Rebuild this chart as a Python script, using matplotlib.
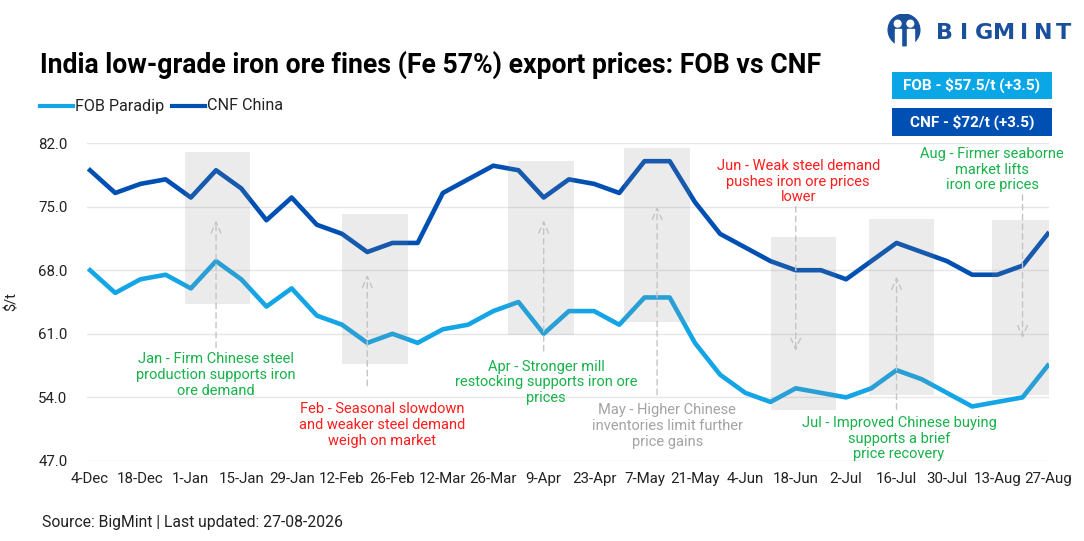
import numpy as np
import matplotlib
matplotlib.use("Agg")
import matplotlib.pyplot as plt
from matplotlib.patches import Rectangle, Circle

plt.rcParams['font.family'] = ['Roboto', 'DejaVu Sans']

# weekly prices, 4-Dec to 27-Aug
fob = [68, 65.5, 67, 67.5, 66, 69, 67, 64, 66, 63, 62, 60, 61, 60, 61.5, 62, 63.5, 64.5, 61,
       63.5, 63.5, 62, 65, 65, 60, 56.5, 54.5, 53.5, 55, 54.5, 54, 55, 57, 56, 54.5, 53, 53.5, 54, 57.5]
cnf = [79, 76.5, 77.5, 78, 76, 79, 77, 73.5, 76, 73, 72, 70, 71, 71, 76.5, 78, 79.5, 79, 76,
       78, 77.5, 76.5, 80, 80, 75.5, 72, 70.5, 69, 68, 68, 67, 69, 71, 70, 69, 67.5, 67.5, 68.5, 72]
xlabels = ['4-Dec', '18-Dec', '1-Jan', '15-Jan', '29-Jan', '12-Feb', '26-Feb', '12-Mar', '26-Mar', '9-Apr',
           '23-Apr', '7-May', '21-May', '4-Jun', '18-Jun', '2-Jul', '16-Jul', '30-Jul', '13-Aug', '27-Aug']
yticks = [47.0, 54.0, 61.0, 68.0, 75.0, 82.0]

GREEN = '#17b24a'
RED = '#ff1d1d'
GREY = '#a3a3a3'

# box centre, box bottom/top, arrow x, arrow from, arrow to, text, colour, text x, text y
notes = [
    (5.05, 64.3, 81.0, 5.0, 59.5, 73.5, "Jan - Firm Chinese steel\nproduction supports iron\nore demand", GREEN, 5.0, 58.95),
    (11.3, 57.7, 74.2, 11.0, 55.3, 67.5, "Feb - Seasonal slowdown\nand weaker steel demand\nweigh on market", RED, 11.6, 53.45),
    (17.9, 60.9, 80.0, 18.0, 59.1, 73.5, "Apr - Stronger mill\nrestocking supports iron ore\nprices", GREEN, 18.1, 58.15),
    (22.5, 62.3, 81.4, 22.5, 54.3, 75.0, "May - Higher Chinese\ninventories limit further\nprice gains", GREY, 22.9, 53.35),
    (28.3, 52.6, 71.7, 28.0, 75.0, 59.1, "Jun - Weak steel demand\npushes iron ore prices\nlower", RED, 28.1, 80.25),
    (32.2, 54.3, 73.6, 32.0, 52.7, 67.3, "Jul - Improved Chinese buying\nsupports a brief\nprice recovery", GREEN, 32.1, 51.95),
    (37.1, 54.3, 73.5, 37.0, 76.3, 60.5, "Aug - Firmer seaborne\nmarket lifts\niron ore prices", GREEN, 35.8, 81.55),
]

fig = plt.figure(figsize=(10.84, 5.41), dpi=100)
ax = fig.add_axes([87 / 1084, 1 - 461 / 541, (1049 - 87) / 1084, (461 - 143) / 541])

x = np.arange(len(fob))
ax.plot(x, cnf, color='#0050b4', lw=3.3, solid_joinstyle='round', zorder=3, label='CNF China')
ax.plot(x, fob, color='#14a5e6', lw=3.3, solid_joinstyle='round', zorder=3, label='FOB Paradip')

for cx, b0, b1, axx, a0, a1, txt, col, tx, ty in notes:
    ax.add_patch(Rectangle((cx - 1.3, b0), 2.6, b1 - b0, facecolor='#8c8c8c', alpha=0.17,
                           edgecolor='none', zorder=4))
    ax.annotate('', xy=(axx, a1), xytext=(axx, a0),
                arrowprops=dict(arrowstyle='->,head_length=0.8,head_width=0.35', color='#c4c4c4',
                                lw=1, ls=(0, (4, 3)), shrinkA=0, shrinkB=0), zorder=5)
    ax.text(tx, ty, txt, color=col, fontsize=10.5, ha='center', va='top', linespacing=1.15, zorder=6)

ax.set_xlim(-0.12, 38.05)
ax.set_ylim(47, 82)
ax.set_yticks(yticks)
ax.set_yticklabels([f'{v:.1f}' for v in yticks])
ax.set_xticks(np.arange(0, 39, 2))
ax.set_xticklabels(xlabels)
ax.tick_params(axis='both', length=0, labelsize=10.8, colors='#222222')
ax.tick_params(axis='y', pad=14)
ax.tick_params(axis='x', pad=8)
ax.grid(axis='y', color='#e6e6e6', lw=1)
for s in ax.spines.values():
    s.set_visible(False)
ax.set_ylabel('$/t', fontsize=10.5, color='#222222', labelpad=14)

# header
fig.text(40 / 1084, 1 - 65 / 541, 'India low-grade iron ore fines (Fe 57%) export prices: FOB vs CNF',
         fontsize=19.2, fontweight='bold', color='black', va='center')
fig.add_artist(plt.Line2D([40 / 1084, 73 / 1084], [1 - 106 / 541] * 2, color='#14a5e6', lw=3))
fig.text(75 / 1084, 1 - 106 / 541, 'FOB Paradip', fontsize=11.6, va='center', color='#222222')
fig.add_artist(plt.Line2D([172 / 1084, 205 / 1084], [1 - 106 / 541] * 2, color='#0050b4', lw=3))
fig.text(207 / 1084, 1 - 106 / 541, 'CNF China', fontsize=11.6, va='center', color='#222222')

# value boxes
for y0, y1, col, txt in [(72, 99, '#0aa6e6', 'FOB - $57.5/t (+3.5)'), (108, 136, '#0050b4', 'CNF - $72/t (+3.5)')]:
    fig.add_artist(Rectangle((892 / 1084, 1 - y1 / 541), 160 / 1084, (y1 - y0) / 541,
                             facecolor=col, edgecolor='none', transform=fig.transFigure))
    fig.text(972 / 1084, 1 - (y0 + y1) / 2 / 541, txt, color='white', fontsize=11,
             fontweight='bold', ha='center', va='center')

# logo
lax = fig.add_axes([885 / 1084, 1 - 48 / 541, 38 / 1084, 34 / 541])
lax.set_xlim(0, 36)
lax.set_ylim(0, 32)
lax.set_aspect('equal')
lax.axis('off')
lax.add_patch(Circle((18, 17), 15, color='#1a4f9c'))
lax.add_patch(Circle((12, 23), 3.2, color='white'))
lax.add_patch(Circle((24, 23), 3.2, color='white'))
lax.add_patch(Rectangle((9, 2), 6, 16, color='white'))
lax.add_patch(Rectangle((21, 2), 6, 16, color='white'))
for i, ch in enumerate('BIGMINT'):
    fig.text((944 + i * 19.9) / 1084, 1 - 33 / 541, ch, fontsize=16, fontweight='bold',
             family=['DejaVu Sans'], color='#1a4f9c', va='center', ha='center')

fig.text(42 / 1084, 1 - 523 / 541, 'Source: BigMint | Last updated: 27-08-2026', fontsize=11.3,
         color='#222222', va='center')

fig.savefig('out.png', dpi=100, facecolor='white')
